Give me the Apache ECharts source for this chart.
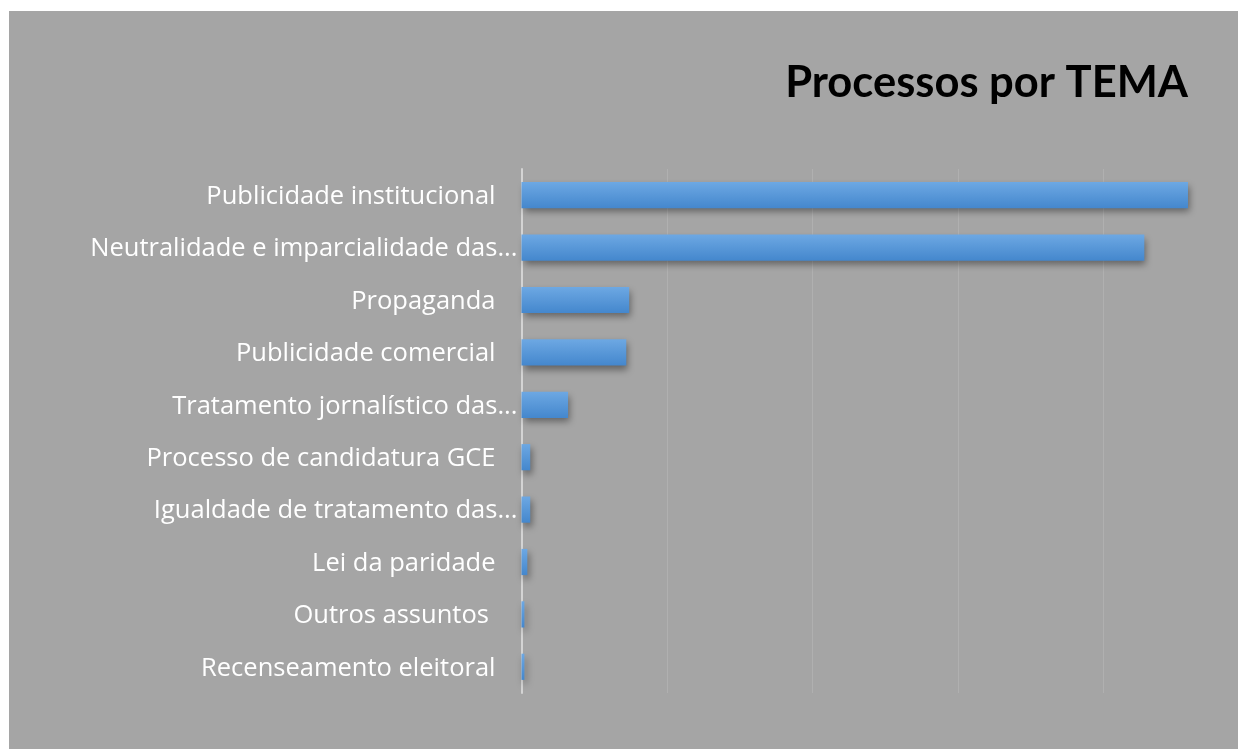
<!DOCTYPE html>
<html>
<head>
<meta charset="utf-8">
<script src="https://cdn.jsdelivr.net/npm/echarts@6/dist/echarts.min.js"></script>
<style>
  html, body { margin: 0; padding: 0; background: #ffffff; width: 1238px; height: 749px; overflow: hidden; }
  #chart { position: absolute; left: 9px; top: 11px; width: 1229px; height: 738px; }
</style>
</head>
<body>
<div id="chart"></div>
<script>
const chartTitle = 'Processos por TEMA';
const categories = [
  'Publicidade institucional',
  'Neutralidade e imparcialidade das...',
  'Propaganda',
  'Publicidade comercial',
  'Tratamento jornalístico das...',
  'Processo de candidatura GCE',
  'Igualdade de tratamento das...',
  'Lei da paridade',
  'Outros assuntos ',
  'Recenseamento eleitoral'
];
const values = [229, 214, 37, 36, 16, 3, 3, 2, 1, 1];

const chart = echarts.init(document.getElementById('chart'));
chart.setOption({
  backgroundColor: '#a5a5a5',
  animation: false,
  title: {
    text: chartTitle,
    right: 45,
    top: 45,
    textStyle: { fontFamily: 'Lato', fontWeight: 'bold', fontSize: 43.5, color: '#000000' }
  },
  grid: { left: 512.5, right: 18, top: 158, bottom: 56, containLabel: false },
  xAxis: {
    type: 'value',
    min: 0,
    max: 240,
    interval: 50,
    axisLabel: { show: false },
    axisTick: { show: false },
    axisLine: { show: false },
    splitLine: { show: true, showMinLine: false, showMaxLine: false, lineStyle: { color: '#b0b0b0', width: 1 } }
  },
  yAxis: {
    type: 'category',
    data: categories,
    inverse: true,
    axisTick: { show: false },
    axisLine: { show: true, lineStyle: { color: '#d4d4d4', width: 2 } },
    axisLabel: {
      color: '#ffffff',
      fontFamily: 'Open Sans',
      fontSize: 25.5,
      margin: 4,
      formatter: function (v) {
        return v.endsWith('...') ? '{t|' + v + '}' : '{f|' + v + '}';
      },
      rich: {
        t: { color: '#ffffff', fontFamily: 'Open Sans', fontSize: 25.5, padding: [3, 0, 0, 0] },
        f: { color: '#ffffff', fontFamily: 'Open Sans', fontSize: 25.5, padding: [3, 22, 0, 0] }
      }
    }
  },
  series: [{
    type: 'bar',
    data: values,
    barCategoryGap: '50%',
    itemStyle: {
      color: new echarts.graphic.LinearGradient(0, 0, 0, 1, [
        { offset: 0, color: '#6da8e3' },
        { offset: 1, color: '#4487cd' }
      ]),
      shadowColor: 'rgba(0,0,0,0.4)',
      shadowBlur: 7,
      shadowOffsetX: 2,
      shadowOffsetY: 4
    }
  }]
});
</script>
</body>
</html>
